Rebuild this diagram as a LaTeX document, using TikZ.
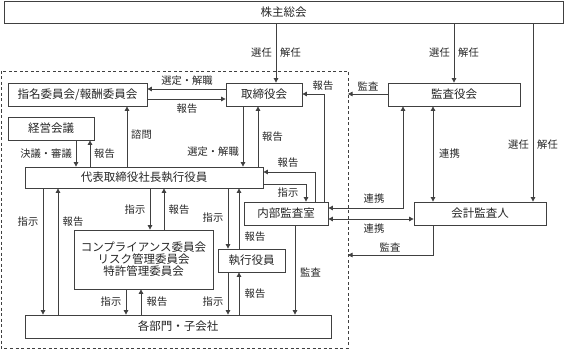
\documentclass[tikz,border=0pt]{standalone}
\usepackage{fontspec}
\newfontfamily\cjk{Noto Sans CJK JP}
\usetikzlibrary{arrows.meta,calc}
\definecolor{ln}{HTML}{404040}
\tikzset{
  box/.style={draw=ln, line width=0.8pt, fill=white, inner sep=0pt, font=\cjk\fontsize{11.5}{13.5}\selectfont, text=black!85},
  lbl/.style={font=\cjk\fontsize{10.3}{12}\selectfont, inner sep=1pt, text=black!85},
  arr/.style={draw=ln, line width=0.8pt, -{Triangle[length=4.5pt,width=4.5pt]}},
  dbl/.style={draw=ln, line width=0.8pt, {Triangle[length=4.5pt,width=4.5pt]}-{Triangle[length=4.5pt,width=4.5pt]}},
  ln/.style={draw=ln, line width=0.8pt}
}
\begin{document}
\begin{tikzpicture}[x=1pt,y=-1pt]
\useasboundingbox (0,0) rectangle (564,350);
% dashed frame
\draw[ln, dash pattern=on 3pt off 2.5pt] (1,71) rectangle (348,348);
\coordinate (fr) at (348,71);
% boxes
\node[box, minimum width=559pt, minimum height=22pt] (sh) at (283.5,12) {株主総会};
\node[box, minimum width=139pt, minimum height=23pt] (nom) at (77.5,94.5) {指名委員会/報酬委員会};
\node[box, minimum width=76pt, minimum height=23pt] (bod) at (264,94.5) {取締役会};
\node[box, minimum width=132pt, minimum height=23pt] (kac) at (454,94.5) {監査役会};
\node[box, minimum width=86pt, minimum height=23pt] (kei) at (51,128.5) {経営会議};
\node[box, minimum width=238pt, minimum height=21pt] (ceo) at (144,177.5) {代表取締役社長執行役員};
\node[box, minimum width=84pt, minimum height=23pt] (ia) at (286,213.5) {内部監査室};
\node[box, minimum width=132pt, minimum height=23pt] (aud) at (480,213.5) {会計監査人};
\node[box, minimum width=139pt, minimum height=59pt, align=center] (comp) at (143.5,259.5) {コンプライアンス委員会\\[-1.5pt]リスク管理委員会\\[-1.5pt]特許管理委員会};
\node[box, minimum width=67pt, minimum height=23pt] (exe) at (251.5,260.5) {執行役員};
\node[box, minimum width=306pt, minimum height=23pt] (dept) at (178,326.5) {各部門・子会社};
% shareholders
\draw[arr] (276,0 |- sh.south) -- (276,0 |- bod.north);
\node[lbl, anchor=east] at (273,53) {選任};
\node[lbl, anchor=west] at (279,53) {解任};
\draw[arr] (sh.south -| kac.north) -- (kac.north);
\node[lbl, anchor=east] at (451,53) {選任};
\node[lbl, anchor=west] at (457,53) {解任};
\draw[arr] (533,0 |- sh.south) -- (533,0 |- aud.north);
\node[lbl, anchor=east] at (530,145) {選任};
\node[lbl, anchor=west] at (536,145) {解任};
% board <-> nomination
\draw[arr] (0,89 -| bod.west) -- (0,89 -| nom.east);
\node[lbl] at (187,80.5) {選定・解職};
\draw[arr] (0,99 -| nom.east) -- (0,99 -| bod.west);
\node[lbl] at (187,109) {報告};
% management meeting
\draw[arr] (76,0 |- kei.south) -- (76,0 |- ceo.north);
\node[lbl, anchor=east] at (73,154) {決議・審議};
\draw[arr] (90,0 |- ceo.north) -- (90,0 |- kei.south);
\node[lbl, anchor=west] at (93,154) {報告};
\draw[arr] (127,0 |- ceo.north) -- (127,0 |- nom.south);
\node[lbl, anchor=west] at (130,135) {諮問};
% board <-> ceo
\draw[arr] (243,0 |- bod.south) -- (243,0 |- ceo.north);
\node[lbl, anchor=east] at (240,152) {選定・解職};
\draw[arr] (258,0 |- ceo.north) -- (258,0 |- bod.south);
\node[lbl, anchor=west] at (261,137) {報告};
% internal audit
\draw[arr] (315,0 |- ia.north) |- (0,172 -| ceo.east);
\node[lbl] at (288,162.5) {報告};
\draw[arr] (0,184 -| ceo.east) -| (306,0 |- ia.north);
\node[lbl] at (288,192.5) {指示};
\draw[arr] (324,0 |- ia.north) |- (0,94 -| bod.east);
\node[lbl] at (323,86) {報告};
% audit board
\draw[arr] (0,94 -| kac.west) -- (fr |- 0,94);
\node[lbl] at (368,86.5) {監査};
\draw[dbl] (433,0 |- kac.south) -- (433,0 |- aud.north);
\node[lbl, anchor=west] at (438,154) {連携};
\draw[dbl] (0,208 -| ia.east) -| (403,0 |- kac.south);
\node[lbl] at (374,199) {連携};
\draw[dbl] (0,219 -| ia.east) -- (0,219 -| aud.west);
\node[lbl] at (374,228.5) {連携};
\draw[arr] (433,0 |- aud.south) |- (fr |- 0,255);
\node[lbl] at (390,247.5) {監査};
\draw[arr] (295,0 |- ia.south) -- (295,0 |- dept.north);
\node[lbl, anchor=west] at (299,272) {監査};
% ceo -> departments
\draw[arr] (43,0 |- ceo.south) -- (43,0 |- dept.north);
\node[lbl] at (28,222) {指示};
\draw[arr] (58,0 |- dept.north) -- (58,0 |- ceo.south);
\node[lbl] at (73,222) {報告};
% ceo <-> compliance
\draw[arr] (150,0 |- ceo.south) -- (150,0 |- comp.north);
\node[lbl] at (135,210) {指示};
\draw[arr] (164,0 |- comp.north) -- (164,0 |- ceo.south);
\node[lbl] at (179,210) {報告};
\draw[arr] (126,0 |- comp.south) -- (126,0 |- dept.north);
\node[lbl] at (111,302) {指示};
\draw[arr] (141,0 |- dept.north) -- (141,0 |- comp.south);
\node[lbl] at (157,302) {報告};
% executive officers
\draw[arr] (228,0 |- ceo.south) -- (228,0 |- exe.north);
\node[lbl] at (213,218) {指示};
\draw[arr] (239,0 |- exe.north) -- (239,0 |- ceo.south);
\node[lbl] at (255,237) {報告};
\draw[arr] (228,0 |- exe.south) -- (228,0 |- dept.north);
\node[lbl] at (213,302) {指示};
\draw[arr] (239,0 |- dept.north) -- (239,0 |- exe.south);
\node[lbl] at (255,294) {報告};
\end{tikzpicture}
\end{document}
